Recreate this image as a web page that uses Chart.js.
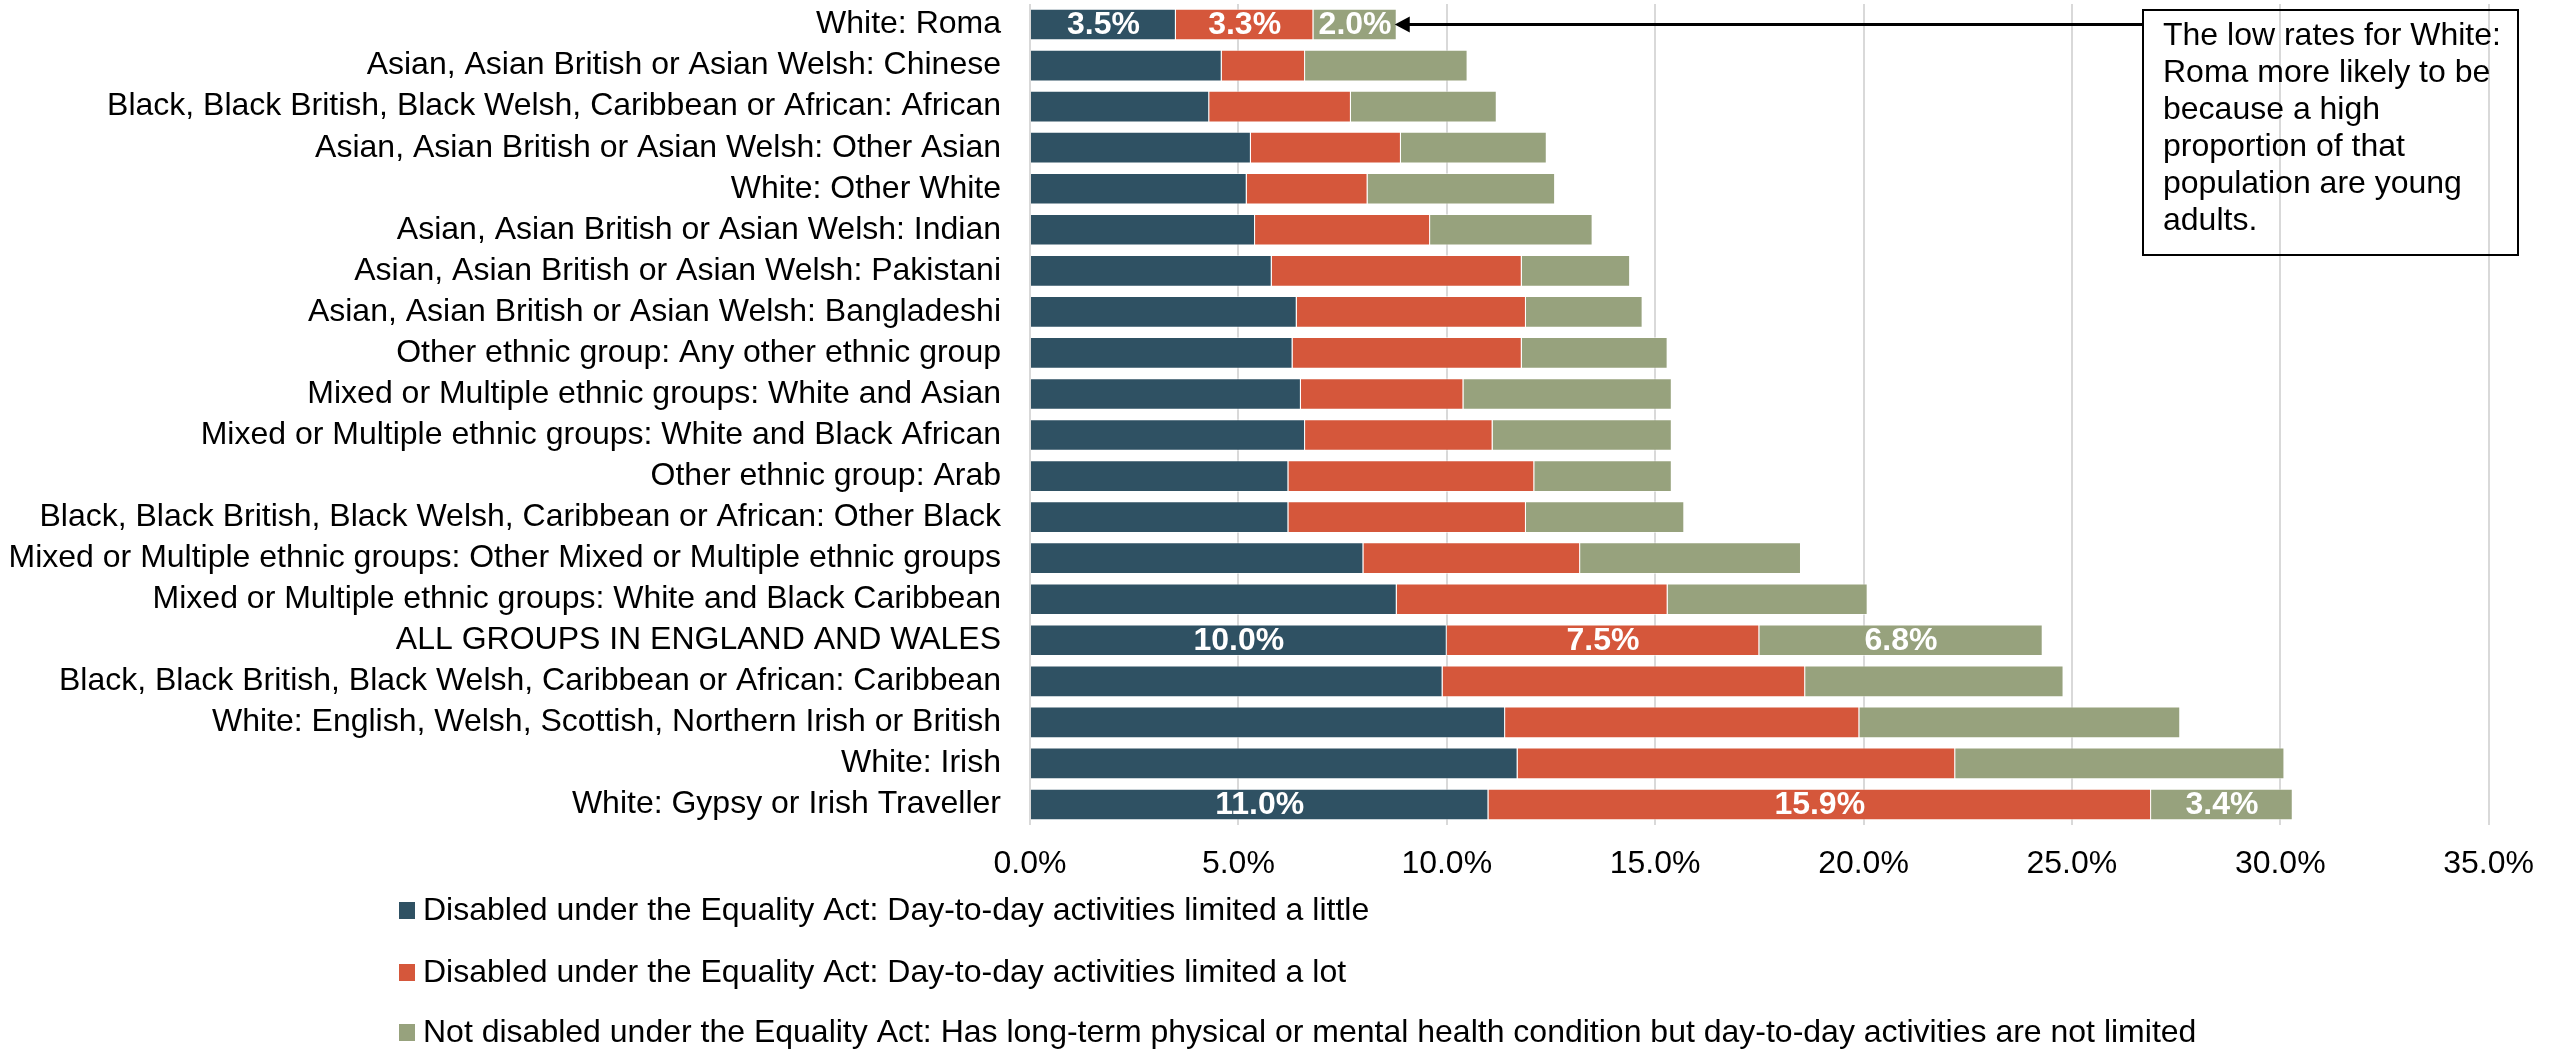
<!DOCTYPE html>
<html>
<head>
<meta charset="utf-8">
<script src="https://cdn.jsdelivr.net/npm/chart.js@4.4.1/dist/chart.umd.min.js"></script>
<style>
  html, body { margin: 0; padding: 0; background: #fff; }
  canvas { display: block; }
</style>
</head>
<body>
<canvas id="chart" width="2554" height="1049"></canvas>
<script>
// Chart data
const categories = [
  "White: Roma",
  "Asian, Asian British or Asian Welsh: Chinese",
  "Black, Black British, Black Welsh, Caribbean or African: African",
  "Asian, Asian British or Asian Welsh: Other Asian",
  "White: Other White",
  "Asian, Asian British or Asian Welsh: Indian",
  "Asian, Asian British or Asian Welsh: Pakistani",
  "Asian, Asian British or Asian Welsh: Bangladeshi",
  "Other ethnic group: Any other ethnic group",
  "Mixed or Multiple ethnic groups: White and Asian",
  "Mixed or Multiple ethnic groups: White and Black African",
  "Other ethnic group: Arab",
  "Black, Black British, Black Welsh, Caribbean or African: Other Black",
  "Mixed or Multiple ethnic groups: Other Mixed or Multiple ethnic groups",
  "Mixed or Multiple ethnic groups: White and Black Caribbean",
  "ALL GROUPS IN ENGLAND AND WALES",
  "Black, Black British, Black Welsh, Caribbean or African: Caribbean",
  "White: English, Welsh, Scottish, Northern Irish or British",
  "White: Irish",
  "White: Gypsy or Irish Traveller"
];
const limitedLittle = [3.5, 4.6, 4.3, 5.3, 5.2, 5.4, 5.8, 6.4, 6.3, 6.5, 6.6, 6.2, 6.2, 8.0, 8.8, 10.0, 9.9, 11.4, 11.7, 11.0];
const limitedLot    = [3.3, 2.0, 3.4, 3.6, 2.9, 4.2, 6.0, 5.5, 5.5, 3.9, 4.5, 5.9, 5.7, 5.2, 6.5, 7.5, 8.7, 8.5, 10.5, 15.9];
const notLimited    = [2.0, 3.9, 3.5, 3.5, 4.5, 3.9, 2.6, 2.8, 3.5, 5.0, 4.3, 3.3, 3.8, 5.3, 4.8, 6.8, 6.2, 7.7, 7.9, 3.4];
const seriesNames = [
  "Disabled under the Equality Act: Day-to-day activities limited a little",
  "Disabled under the Equality Act: Day-to-day activities limited a lot",
  "Not disabled under the Equality Act: Has long-term physical or mental health condition but day-to-day activities are not limited"
];
const labelledRows = ["White: Roma", "ALL GROUPS IN ENGLAND AND WALES", "White: Gypsy or Irish Traveller"];
const noteLines = [
  "The low rates for White:",
  "Roma more likely to be",
  "because a high",
  "proportion of that",
  "population are young",
  "adults."
];

const FONT = "'Liberation Sans', Arial, sans-serif";
const colours = ["#2f5163", "#d5573b", "#97a27d"];

// white bold value labels on the highlighted rows
const valueLabels = {
  id: "valueLabels",
  afterDatasetsDraw(chart) {
    const ctx = chart.ctx;
    ctx.save();
    ctx.font = "bold 32px " + FONT;
    ctx.fillStyle = "#fff";
    ctx.textAlign = "center";
    ctx.textBaseline = "middle";
    chart.data.datasets.forEach((ds, di) => {
      const meta = chart.getDatasetMeta(di);
      labelledRows.forEach(name => {
        const i = categories.indexOf(name);
        const bar = meta.data[i];
        ctx.fillText(ds.data[i].toFixed(1) + "%", (bar.x + bar.base) / 2, bar.y + 1);
      });
    });
    ctx.restore();
  }
};

// legend stacked one per line, note box and arrow
const extras = {
  id: "extras",
  afterDraw(chart) {
    const ctx = chart.ctx;
    ctx.save();

    // legend
    ctx.font = "32px " + FONT;
    ctx.textBaseline = "middle";
    ctx.textAlign = "left";
    const legendY = [910, 972, 1032];
    seriesNames.forEach((name, i) => {
      ctx.fillStyle = colours[i];
      ctx.fillRect(399, legendY[i] - 8, 16, 17);
      ctx.fillStyle = "#000";
      ctx.fillText(name, 423, legendY[i] + 1);
    });

    // note box
    ctx.strokeStyle = "#000";
    ctx.lineWidth = 2;
    ctx.strokeRect(2143, 10, 375, 245);
    ctx.textBaseline = "alphabetic";
    noteLines.forEach((line, i) => {
      ctx.fillText(line, 2163, 45 + i * 37);
    });

    // arrow to the Roma bar
    const x = chart.scales.x;
    const y = chart.scales.y;
    const i = 0;
    const total = limitedLittle[i] + limitedLot[i] + notLimited[i];
    const tipX = x.getPixelForValue(total) - 2;
    const tipY = y.getPixelForValue(i);
    ctx.lineWidth = 3;
    ctx.beginPath();
    ctx.moveTo(2143, tipY);
    ctx.lineTo(tipX + 12, tipY);
    ctx.stroke();
    ctx.fillStyle = "#000";
    ctx.beginPath();
    ctx.moveTo(tipX, tipY);
    ctx.lineTo(tipX + 15, tipY - 8);
    ctx.lineTo(tipX + 15, tipY + 8);
    ctx.closePath();
    ctx.fill();

    ctx.restore();
  }
};

const datasets = [limitedLittle, limitedLot, notLimited].map((data, i) => ({
  label: seriesNames[i],
  data: data,
  backgroundColor: colours[i],
  borderColor: "rgba(255,255,255,0.5)",
  borderWidth: 1,
  barPercentage: 0.77,
  categoryPercentage: 1
}));

new Chart(document.getElementById("chart"), {
  type: "bar",
  data: { labels: categories, datasets: datasets },
  options: {
    indexAxis: "y",
    responsive: false,
    animation: false,
    layout: { padding: { top: 4, right: 47, bottom: 0, left: 0 } },
    plugins: {
      legend: { display: false },
      tooltip: { enabled: false }
    },
    scales: {
      x: {
        stacked: true,
        min: 0,
        max: 35,
        ticks: {
          stepSize: 5,
          padding: 20,
          color: "#000",
          font: { family: FONT, size: 32 },
          callback: v => v.toFixed(1) + "%"
        },
        grid: { color: "#d9d9d9", lineWidth: 2, drawTicks: false },
        border: { display: false },
        afterFit: s => { s.height = 224; }
      },
      y: {
        stacked: true,
        ticks: {
          padding: 29,
          color: "#000",
          font: { family: FONT, size: 32 },
          autoSkip: false
        },
        grid: { display: false, drawTicks: false },
        border: { display: false },
        afterFit: s => { s.width = 1030; s.paddingTop = 0; s.paddingBottom = 0; }
      }
    }
  },
  plugins: [valueLabels, extras]
});
</script>
</body>
</html>
